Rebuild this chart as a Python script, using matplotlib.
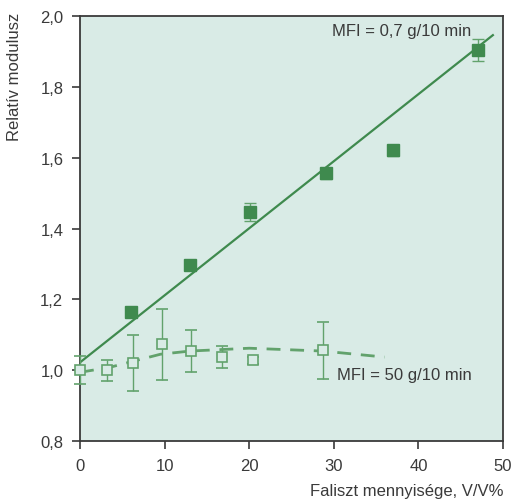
import matplotlib

matplotlib.use("Agg")
import matplotlib.pyplot as plt
from matplotlib.ticker import FuncFormatter, MultipleLocator

# MFI = 0,7 g/10 min (teli négyzetek)
x_hi = [6.0, 13.0, 20.1, 29.1, 37.0, 47.0]
y_hi = [1.164, 1.297, 1.446, 1.556, 1.621, 1.904]
err_hi = [0.015, 0.01, 0.025, 0.015, 0.015, 0.03]
fit_hi_x = [0, 48.8]
fit_hi_y = [1.022, 1.946]

# MFI = 50 g/10 min (üres négyzetek)
x_lo = [0, 3.2, 6.3, 9.7, 13.1, 16.8, 20.5, 28.7]
y_lo = [1.0, 1.0, 1.02, 1.073, 1.054, 1.037, 1.028, 1.056]
err_lo = [0.04, 0.03, 0.08, 0.10, 0.06, 0.03, 0.01, 0.08]
fit_lo_x = [0, 3.5, 9.5, 13, 20, 28.7, 36]
fit_lo_y = [0.994, 1.008, 1.045, 1.054, 1.062, 1.054, 1.037]

BG = "#d9ebe6"
DARK = "#3f8a4e"
LIGHT = "#62a26c"
TEXT = "#3a3a3a"

plt.rcParams.update({
    "font.family": ["Liberation Sans", "DejaVu Sans"],
    "font.size": 12,
    "text.color": TEXT,
    "xtick.color": TEXT,
    "ytick.color": TEXT,
    "axes.edgecolor": TEXT,
})

fig = plt.figure(figsize=(5.11, 5.02), dpi=100)
ax = fig.add_axes([0.1566, 0.1195, 0.8278, 0.8466])
ax.set_facecolor(BG)

# trendvonalak
ax.plot(fit_hi_x, fit_hi_y, color=DARK, lw=1.6, zorder=2)
ax.plot(fit_lo_x, fit_lo_y, color=LIGHT, lw=2, dashes=(5, 3.5), zorder=2)

ax.errorbar(x_lo, y_lo, yerr=err_lo, fmt="s", ms=7.5, mfc=BG, mec=LIGHT,
            mew=1.2, ecolor=LIGHT, elinewidth=1, capsize=4.5, capthick=1,
            zorder=3, clip_on=False)
ax.errorbar(x_hi, y_hi, yerr=err_hi, fmt="s", ms=8.5, mfc=DARK, mec=DARK,
            ecolor=LIGHT, elinewidth=1, capsize=4.5, capthick=1, zorder=4)

ax.text(46.3, 1.958, "MFI = 0,7 g/10 min", ha="right", va="center")
ax.text(46.3, 0.989, "MFI = 50 g/10 min", ha="right", va="center")

ax.set_xlim(0, 50)
ax.set_ylim(0.8, 2.0)
ax.xaxis.set_major_locator(MultipleLocator(10))
ax.yaxis.set_major_locator(MultipleLocator(0.2))
ax.yaxis.set_major_formatter(FuncFormatter(lambda v, p: f"{v:.1f}".replace(".", ",")))
ax.tick_params(direction="out", length=6, width=1.2, top=False, right=False)
ax.tick_params(axis="y", pad=6)
ax.tick_params(axis="x", pad=6)
for s in ax.spines.values():
    s.set_linewidth(1.3)

fig.text(15 / 511, 1 - 13 / 502, "Relatív modulusz", rotation=90, ha="center", va="top")
fig.text(503 / 511, 1 - 492 / 502, "Faliszt mennyisége, V/V%", ha="right", va="center")

fig.savefig("out.png", dpi=100)
